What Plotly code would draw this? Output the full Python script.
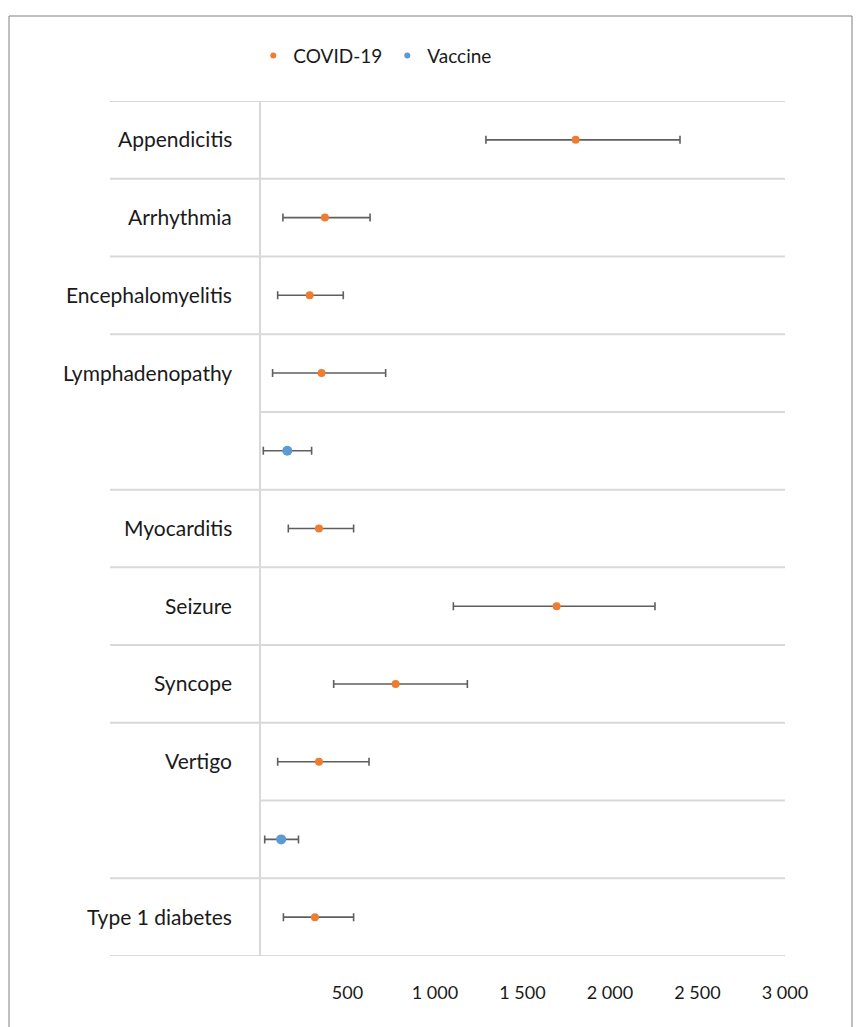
import plotly.graph_objects as go

# ---- data ----
diseases = ["Appendicitis", "Arrhythmia", "Encephalomyelitis", "Lymphadenopathy",
            "Myocarditis", "Seizure", "Syncope", "Vertigo", "Type 1 diabetes"]
covid_mid = [1804, 371, 284, 352, 337, 1695, 775, 337, 314]
covid_low = [1291, 131, 101, 72, 162, 1105, 421, 101, 134]
covid_high = [2400, 629, 476, 718, 535, 2257, 1185, 623, 535]

vaccine_diseases = ["Lymphadenopathy", "Vertigo"]
vaccine_mid = [156, 121]
vaccine_low = [19, 27]
vaccine_high = [295, 220]

# diseases whose label carries a tiny marker dot at the left (dummy label series)
dot_rows = ["Appendicitis", "Arrhythmia", "Myocarditis", "Seizure", "Syncope", "Vertigo"]

x_ticks = [500, 1000, 1500, 2000, 2500, 3000]
x_tick_text = ["500", "1 000", "1 500", "2 000", "2 500", "3 000"]
x_min, x_max = -857, 3000

ORANGE = "#ED7D31"
BLUE = "#5B9BD5"
GRID = "#D9D9D9"
ERR = "#5F5F5F"
FONT = "Lato"

# ---- build row keys: COVID row then Vaccine row per disease ----
rows = []
row_disease = []
for d in diseases:
    rows.append(d + " | COVID-19")
    row_disease.append(d)
    if d in vaccine_diseases:
        rows.append(d + " | Vaccine")
        row_disease.append(d)

fig = go.Figure()

fig.add_trace(go.Scatter(
    x=covid_mid, y=[d + " | COVID-19" for d in diseases], mode="markers",
    marker=dict(color=ORANGE, size=8),
    error_x=dict(type="data", symmetric=False,
                 array=[h - m for h, m in zip(covid_high, covid_mid)],
                 arrayminus=[m - l for m, l in zip(covid_mid, covid_low)],
                 color=ERR, thickness=1.6, width=4),
    showlegend=False, name="COVID-19"))

fig.add_trace(go.Scatter(
    x=vaccine_mid, y=[d + " | Vaccine" for d in vaccine_diseases], mode="markers",
    marker=dict(color=BLUE, size=10),
    error_x=dict(type="data", symmetric=False,
                 array=[h - m for h, m in zip(vaccine_high, vaccine_mid)],
                 arrayminus=[m - l for m, l in zip(vaccine_mid, vaccine_low)],
                 color=ERR, thickness=1.6, width=4),
    showlegend=False, name="Vaccine"))

# tiny dummy dots on the left
dot_y = []
for d in dot_rows:
    if d in vaccine_diseases:
        dot_y.append(rows.index(d + " | COVID-19") + 0.5)
    else:
        dot_y.append(rows.index(d + " | COVID-19"))
fig.add_trace(go.Scatter(x=[-829] * len(dot_y), y=dot_y, mode="markers",
                         marker=dict(color="#8C8C8C", size=3),
                         showlegend=False, hoverinfo="skip", cliponaxis=False))

# legend-only traces
fig.add_trace(go.Scatter(x=[None], y=[None], mode="markers", name="COVID-19",
                         marker=dict(color=ORANGE, size=6)))
fig.add_trace(go.Scatter(x=[None], y=[None], mode="markers", name="Vaccine",
                         marker=dict(color=BLUE, size=6)))

shapes = []
# horizontal row separators
for i in range(len(rows) + 1):
    same = 0 < i < len(rows) and row_disease[i - 1] == row_disease[i]
    shapes.append(dict(type="line", xref="x" if same else "paper", yref="y",
                       x0=0, x1=x_max if same else 1,
                       y0=i - 0.5, y1=i - 0.5,
                       line=dict(color=GRID, width=2), layer="below"))
# vertical axis line at 0
shapes.append(dict(type="line", xref="x", yref="paper", x0=0, x1=0, y0=0, y1=1,
                   line=dict(color=GRID, width=2), layer="below"))
# outer frame
W, H = 856, 1027
L, R, T, B = 110, 71, 101, 71
pw, ph = W - L - R, H - T - B
shapes.append(dict(type="rect", xref="paper", yref="paper",
                   x0=(9 - L) / pw, x1=(852 - L) / pw,
                   y0=(T + ph - 1040) / ph, y1=(T + ph - 16) / ph,
                   line=dict(color="#808080", width=1), fillcolor="rgba(0,0,0,0)",
                   layer="below"))

annotations = []
for d in diseases:
    annotations.append(dict(x=-150, y=d + " | COVID-19", xref="x", yref="y",
                            text=d, showarrow=False, xanchor="right",
                            yanchor="middle", yshift=1,
                            font=dict(family=FONT, size=21, color="#1a1a1a")))

fig.update_layout(
    width=W, height=H,
    margin=dict(l=L, r=R, t=T, b=B),
    paper_bgcolor="white", plot_bgcolor="white",
    font=dict(family=FONT, color="#1a1a1a"),
    shapes=shapes, annotations=annotations,
    showlegend=True,
    legend=dict(orientation="h", x=0.393, y=1.053, xanchor="center", yanchor="middle",
                font=dict(family=FONT, size=19, color="#1a1a1a"),
                bgcolor="rgba(0,0,0,0)"),
    xaxis=dict(range=[x_min, x_max], tickvals=x_ticks, ticktext=x_tick_text,
               showgrid=False, zeroline=False, showline=False, ticks="",
               ticklabelstandoff=24,
               tickfont=dict(family=FONT, size=18, color="#1a1a1a")),
    yaxis=dict(type="category", categoryarray=rows, categoryorder="array",
               range=[len(rows) - 0.5, -0.5], showgrid=False, zeroline=False,
               showticklabels=False, showline=False, ticks=""),
)

fig.write_html("out.html",
               config={"displayModeBar": False},
               post_script="document.body.style.margin='0';"
                           "document.body.style.overflow='hidden';")
